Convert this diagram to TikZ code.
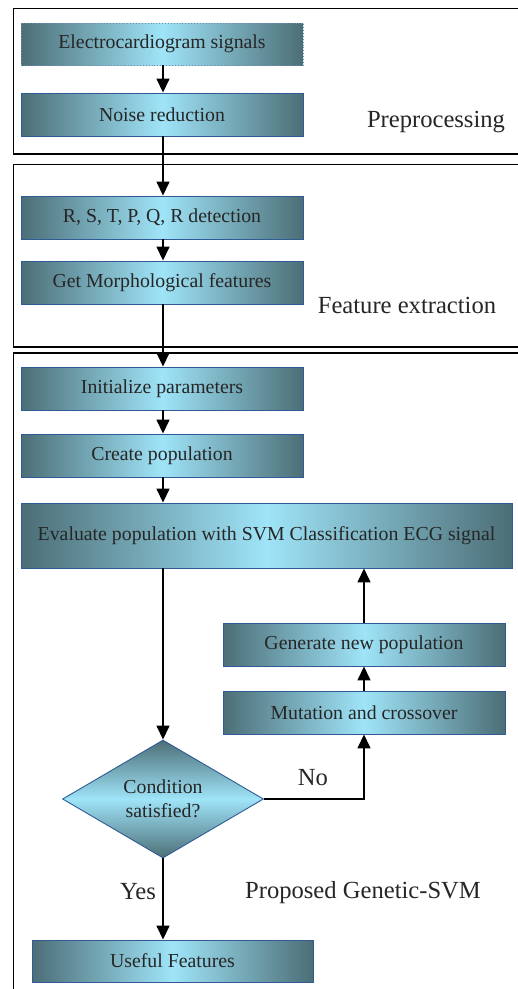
\documentclass[tikz,border=0pt]{standalone}
\usepackage{fontspec}
\setmainfont{Liberation Serif}
\usetikzlibrary{shapes.geometric,arrows.meta}
\definecolor{boxdark}{HTML}{4C6E76}
\definecolor{boxlight}{HTML}{9FE4F8}
\definecolor{boxedge}{HTML}{2F5C96}
\definecolor{txt}{HTML}{262626}
\tikzset{
  procbox/.style={rectangle, draw=boxedge, line width=0.9pt,
    left color=boxdark, right color=boxdark, middle color=boxlight,
    minimum height=43pt, inner sep=0pt, text=txt,
    font=\fontsize{19.8}{23.5}\selectfont},
  decbox/.style={diamond, draw=boxedge, line width=0.9pt,
    top color=boxdark, bottom color=boxdark, middle color=boxlight,
    minimum width=201pt, minimum height=118pt, aspect=1.7, inner sep=0pt,
    text=txt, align=center, font=\fontsize{19.8}{23.5}\selectfont},
  framebox/.style={draw=black, line width=1.6pt},
  biglabel/.style={text=txt, inner sep=0pt, anchor=base,
    font=\fontsize{24.6}{29}\selectfont},
  flow/.style={draw=black, line width=1.5pt, -{Triangle[length=14pt,width=13pt]}},
}
\begin{document}
\begin{tikzpicture}[x=1pt,y=-1pt]
\useasboundingbox (0,0) rectangle (518,989);
\begin{scope}
\clip (0,0) rectangle (518,989);
\draw[framebox] (13.5,8.5) rectangle (540,154);
\draw[framebox] (13.5,164.5) rectangle (540,347);
\draw[framebox] (13.5,353) rectangle (540,1010);
\end{scope}

\node[procbox, minimum width=282pt, minimum height=42pt, draw=boxedge!70, dotted] (ecg) at (162,44) {Electrocardiogram signals};
\node[procbox, minimum width=282pt] (noise) at (162,114.5) {Noise reduction};
\node[procbox, minimum width=282pt] (rst) at (162,217.5) {R, S, T, P, Q, R detection};
\node[procbox, minimum width=282pt] (morph) at (162,282.5) {Get Morphological features};
\node[procbox, minimum width=282pt] (init) at (162,388.5) {Initialize parameters};
\node[procbox, minimum width=282pt] (create) at (162,455.5) {Create population};
\node[procbox, minimum width=491pt, minimum height=65pt] (eval) at (266.5,535.5) {Evaluate population with SVM Classification ECG signal};
\node[procbox, minimum width=282pt] (gen) at (364,644.5) {Generate new population};
\node[procbox, minimum width=282pt] (mut) at (364,712.5) {Mutation and crossover};
\node[decbox] (cond) at (163,799) {Condition\\satisfied?};
\node[procbox, minimum width=281pt, minimum height=42pt] (useful) at (172.5,961) {Useful Features};

\node[biglabel] (lpre) at (436,127.5) {Preprocessing};
\node[biglabel] (lfeat) at (407,313) {Feature extraction};
\node[biglabel] (lgen) at (363,898) {Proposed Genetic-SVM};
\node[biglabel] (lno) at (313,785) {No};
\node[biglabel] (lyes) at (138,899) {Yes};

\draw[flow] (ecg.south -| cond.north) -- (noise.north -| cond.north);
\draw[flow] (noise.south -| cond.north) -- (rst.north -| cond.north);
\draw[flow] (rst.south -| cond.north) -- (morph.north -| cond.north);
\draw[flow] (morph.south -| cond.north) -- (init.north -| cond.north);
\draw[flow] (init.south -| cond.north) -- (create.north -| cond.north);
\draw[flow] (create.south -| cond.north) -- (eval.north -| cond.north);
\draw[flow] (eval.south -| cond.north) -- (cond.north);
\draw[flow] (cond.east) -| (mut.south);
\draw[flow] (mut.north) -- (gen.south);
\draw[flow] (gen.north) -- (eval.south -| gen.north);
\draw[flow] (cond.south) -- (useful.north -| cond.south);
\end{tikzpicture}
\end{document}
